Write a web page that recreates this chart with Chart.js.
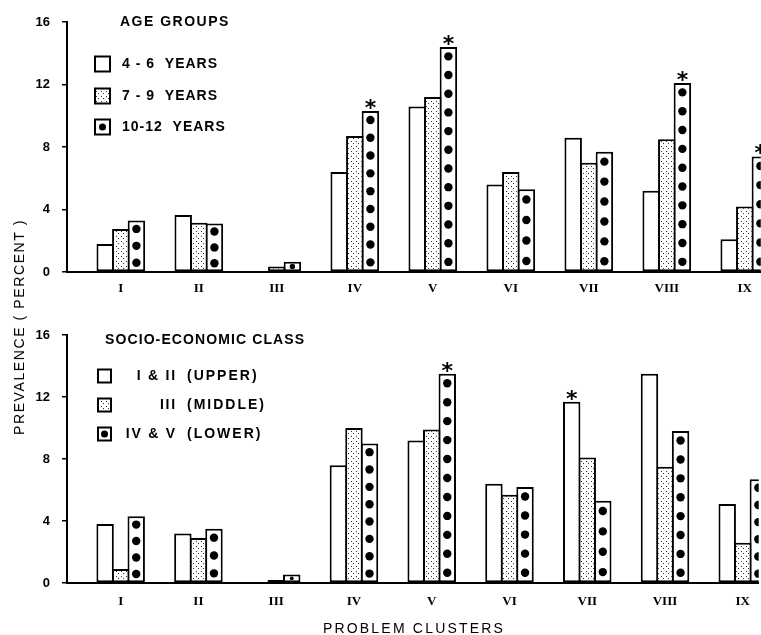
<!DOCTYPE html>
<html><head><meta charset="utf-8">
<script src="https://cdn.jsdelivr.net/npm/chart.js@4.4.1/dist/chart.umd.min.js"></script>
<style>
html,body{margin:0;padding:0;background:#fff;width:761px;height:635px;overflow:hidden;position:relative}
canvas{display:block;position:absolute;left:0}
#c1{top:0}
#c2{top:310px}
#ytitle{position:absolute;left:19px;top:327px;transform:translate(-50%,-50%) rotate(-90deg);font:14px 'Liberation Sans',sans-serif;letter-spacing:1.6px;white-space:nowrap;color:#000}
#xtitle{position:absolute;left:414px;top:628px;transform:translate(-50%,-50%);font:14px 'Liberation Sans',sans-serif;letter-spacing:2.2px;white-space:nowrap;color:#000}
</style></head><body>
<canvas id="c1" width="761" height="310"></canvas>
<canvas id="c2" width="761" height="325"></canvas>
<div id="ytitle">PREVALENCE ( PERCENT )</div>
<div id="xtitle"></div>
<script>
// ---- data ----
const clusters = ['I','II','III','IV','V','VI','VII','VIII','IX'];
const yTicks = [0, 4, 8, 12, 16];

const ageTitle = 'AGE GROUPS';
const ageLabels = ['4 - 6  YEARS', '7 - 9  YEARS', '10-12  YEARS'];
const age4to6   = [1.8, 3.65, 0,    6.4, 10.6, 5.6, 8.6, 5.2, 2.1];
const age7to9   = [2.75, 3.15, 0.35, 8.7, 11.2, 6.4, 7.0, 8.5, 4.2];
const age10to12 = [3.3, 3.1, 0.65, 10.3, 14.4, 5.3, 7.7, 12.1, 7.4];
const ageStars  = [[2,3],[2,4],[2,7],[2,8]]; // [series, cluster]

const sesTitle = 'SOCIO-ECONOMIC CLASS';
const sesClass = ['I & II', 'III', 'IV & V'];
const sesDesc  = ['(UPPER)', '(MIDDLE)', '(LOWER)'];
const sesUpper  = [3.8, 3.2, 0.05, 7.6, 9.2, 6.4, 11.7, 13.5, 5.1];
const sesMiddle = [0.9, 2.9, 0.2, 10.0, 9.9, 5.7, 8.1, 7.5, 2.6];
const sesLower  = [4.3, 3.5, 0.55, 9.0, 13.5, 6.2, 5.3, 9.8, 6.7];
const sesStars  = [[2,4],[0,6]];

const xAxisTitle = 'PROBLEM CLUSTERS';
document.getElementById('xtitle').textContent = xAxisTitle;

// ---- styling helpers ----
function stipple(){
  const c = document.createElement('canvas'); c.width = 5; c.height = 5;
  const g = c.getContext('2d');
  g.fillStyle = '#fff'; g.fillRect(0,0,5,5);
  g.fillStyle = '#333'; g.fillRect(1,1,1,1); g.fillRect(3,3,1,1);
  return g.createPattern(c, 'repeat');
}
const STIP = stipple();

function toXY(arr){ return arr.map((v,i)=>({x:i+1, y:v})); }

const dotsPlugin = {
  id: 'dots',
  afterDatasetsDraw(chart){
    const ctx = chart.ctx, ca = chart.chartArea;
    const meta = chart.getDatasetMeta(2);
    ctx.save();
    ctx.beginPath(); ctx.rect(ca.left, 0, ca.right-ca.left, chart.height); ctx.clip();
    ctx.fillStyle = '#000';
    meta.data.forEach(bar=>{
      const p = bar.getProps(['x','y','base'], true);
      const h = p.base - p.y;
      if (h < 4) return;
      const n = Math.max(1, Math.round(h/18.5));
      const step = h/n;
      const r = Math.min(4.2, h/2 - 2);
      for (let i=0;i<n;i++){
        ctx.beginPath();
        ctx.arc(p.x, p.base - (i+0.5)*step, r, 0, Math.PI*2);
        ctx.fill();
      }
    });
    ctx.restore();
  }
};

const starsPlugin = {
  id: 'stars',
  afterDatasetsDraw(chart, args, opts){
    const ctx = chart.ctx;
    ctx.save();
    ctx.fillStyle = '#000';
    ctx.font = 'bold 22px "DejaVu Sans"';
    ctx.textAlign = 'center';
    ctx.textBaseline = 'alphabetic';
    (opts.list||[]).forEach(([s,c])=>{
      const bar = chart.getDatasetMeta(s).data[c];
      const p = bar.getProps(['x','y'], true);
      ctx.fillText('*', p.x, p.y + 4);
    });
    ctx.restore();
  }
};

const legendPlugin = {
  id: 'customLegend',
  afterDraw(chart, args, o){
    const ctx = chart.ctx;
    ctx.save();
    ctx.fillStyle = '#000';
    ctx.textBaseline = 'middle';
    ctx.font = 'bold 14px "Liberation Sans"';
    ctx.letterSpacing = o.titleSpacing;
    ctx.fillText(o.title, o.titleX, o.titleY);
    o.rows.forEach((ry, i)=>{
      const bx = o.boxX, by = ry - o.box/2, bs = o.box;
      ctx.fillStyle = i===1 ? STIP : '#fff';
      ctx.fillRect(bx, by, bs, bs);
      ctx.strokeStyle = '#000'; ctx.lineWidth = 2;
      ctx.strokeRect(bx, by, bs, bs);
      if (i===2){ ctx.fillStyle='#000'; ctx.beginPath(); ctx.arc(bx+bs/2, ry, 3.5, 0, Math.PI*2); ctx.fill(); }
      ctx.fillStyle = '#000';
      if (o.desc){
        ctx.letterSpacing = o.classSpacing;
        ctx.textAlign = 'right';
        ctx.fillText(o.labels[i], o.classRight, ry);
        ctx.letterSpacing = o.textSpacing;
        ctx.textAlign = 'left';
        ctx.fillText(o.desc[i], o.descX, ry);
      } else {
        ctx.letterSpacing = o.textSpacing;
        ctx.textAlign = 'left';
        ctx.fillText(o.labels[i], o.textX, ry);
      }
    });
    ctx.restore();
  }
};

function makePanel(canvas, series, legendOpts, stars, padTop, xHeight, xPad){
  const fills = ['#fff', STIP, '#fff'];
  return new Chart(canvas, {
    type: 'bar',
    data: {
      datasets: series.map((arr, i)=>({
        data: toXY(arr),
        backgroundColor: fills[i],
        borderColor: '#000',
        borderWidth: 2,
        borderSkipped: false,
        categoryPercentage: 0.6,
        barPercentage: 1.12,
        grouped: true
      }))
    },
    options: {
      responsive: false,
      animation: false,
      devicePixelRatio: 1,
      layout: {padding: {top: padTop, left: 0, right: 0, bottom: 0}},
      plugins: {
        legend: {display: false},
        tooltip: {enabled: false},
        customLegend: legendOpts,
        stars: {list: stars}
      },
      scales: {
        x: {
          type: 'linear', min: 0.31, max: 9.205, offset: false,
          ticks: {stepSize: 1, includeBounds: false, autoSkip: false, maxRotation: 0,
            callback: v => clusters[v-1] || '',
            font: {family: 'Liberation Serif', size: 13, weight: 'bold'}, color: '#000', padding: xPad},
          grid: {display: false, drawTicks: false},
          border: {display: true, color: '#000', width: 2},
          afterFit: s => { s.height = xHeight; }
        },
        y: {
          min: 0, max: 16,
          afterBuildTicks: s => { s.ticks = yTicks.map(v => ({value: v})); },
          ticks: {color: '#000', font: {family: 'Liberation Sans', size: 13, weight: 'bold'}, padding: 12},
          grid: {display: true, drawOnChartArea: false, drawTicks: true, tickLength: 5, color: '#000', lineWidth: 1.5},
          border: {display: true, color: '#000', width: 2},
          afterFit: s => { s.width = 67; }
        }
      }
    },
    plugins: [dotsPlugin, starsPlugin, legendPlugin]
  });
}

makePanel(document.getElementById('c1'), [age4to6, age7to9, age10to12], {
  title: ageTitle, titleX: 120, titleY: 22, titleSpacing: '1.5px', textSpacing: '1px',
  labels: ageLabels, rows: [64, 96, 127], box: 15, boxX: 95, textX: 122
}, ageStars, 22, 38, 9);

makePanel(document.getElementById('c2'), [sesUpper, sesMiddle, sesLower], {
  title: sesTitle, titleX: 105, titleY: 30, titleSpacing: '1.1px', textSpacing: '2px', classSpacing: '1.8px',
  labels: sesClass, desc: sesDesc, rows: [66, 95, 124], box: 13, boxX: 98, classRight: 177, descX: 187
}, sesStars, 25, 52, 11);
</script>
</body></html>
